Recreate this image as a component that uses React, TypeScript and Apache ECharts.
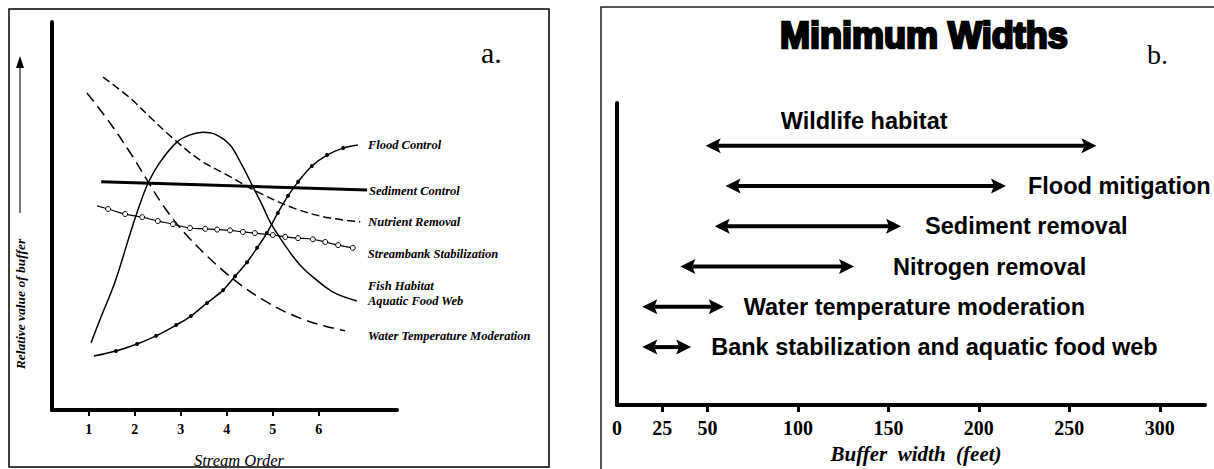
import React, { useEffect, useRef } from "react";
import * as echarts from "echarts";

// ---------- Panel a: relative value of buffer vs stream order ----------
const streamOrderTicks = [1, 2, 3, 4, 5, 6];

const floodControl = [
  [1.11, 13.9], [1.59, 15.2], [2.05, 17.0], [2.46, 19.1], [2.9, 21.9], [3.22, 24.2],
  [3.57, 27.6], [3.92, 30.9], [4.18, 34.5], [4.44, 38.1], [4.66, 41.8], [4.87, 45.6],
  [5.11, 50.8], [5.33, 55.2], [5.55, 58.8], [5.85, 62.9], [6.18, 65.7], [6.53, 67.5],
  [6.85, 68.3],
];
const sedimentControl = [[1.27, 58.8], [7.05, 56.7]];
const nutrientRemoval = [
  [1.31, 85.8], [1.9, 80.4], [2.33, 75.5], [2.87, 69.6], [3.42, 64.4], [4.0, 60.6],
  [4.72, 55.9], [5.44, 52.1], [6.14, 49.7], [6.9, 48.5],
];
const streambankStabilization = [
  [1.18, 52.6], [1.42, 51.8], [1.79, 50.5], [2.16, 49.7], [2.5, 48.7], [2.83, 47.9],
  [3.2, 46.9], [3.53, 46.7], [3.79, 46.5], [4.07, 46.3], [4.35, 45.9], [4.61, 45.6],
  [5.0, 45.1], [5.27, 44.6], [5.55, 44.3], [5.87, 44.0], [6.14, 43.3], [6.42, 42.5],
  [6.74, 41.8],
];
const fishHabitat = [
  [1.05, 17.3], [1.24, 23.2], [1.53, 31.7], [1.68, 37.0], [1.9, 45.5], [2.11, 53.0],
  [2.29, 58.5], [2.55, 63.9], [2.92, 69.1], [3.2, 70.9], [3.48, 71.6], [3.74, 71.1],
  [4.07, 68.3], [4.33, 63.1], [4.57, 57.5], [4.77, 52.8], [4.94, 48.5], [5.16, 44.3],
  [5.37, 40.7], [5.59, 37.4], [5.87, 34.3], [6.31, 30.4], [6.83, 28.1],
];
const waterTemperature = [
  [0.96, 81.7], [1.46, 74.0], [1.96, 65.2], [2.29, 58.8], [2.61, 52.8], [2.92, 47.9],
  [3.2, 44.1], [3.57, 39.7], [4.0, 35.1], [4.4, 31.4], [4.83, 28.1], [5.27, 25.3],
  [5.7, 23.2], [6.14, 21.6], [6.57, 20.4],
];

// ---------- Panel b: minimum buffer widths (feet) ----------
const bufferFunctions = [
  "Wildlife habitat",
  "Flood mitigation",
  "Sediment removal",
  "Nitrogen removal",
  "Water temperature moderation",
  "Bank stabilization and aquatic food web",
];
const minWidthFrom = [49, 60, 54, 35, 14, 14];
const minWidthTo = [265, 215, 157, 131, 59, 41];
const bufferTicks = [25, 50, 100, 150, 200, 250, 300];
const bufferTickLabels = [0, 25, 50, 100, 150, 200, 250, 300];

// layout constants (not data)
const LABEL_GAP = [0, 22, 24, 39, 20, 20];

const serif = "Liberation Serif";

export default function App() {
  const ref = useRef<HTMLDivElement>(null);

  useEffect(() => {
    document.body.style.margin = "0";
    const chart = echarts.init(ref.current!, null, { renderer: "svg" });

    const labelStyle = {
      fontFamily: serif,
      fontStyle: "italic",
      fontWeight: "bold",
      fontSize: 12.5,
      color: "#000",
    };

    const dotted = (arr: number[][], skipLast: boolean) =>
      arr.map((p, i) =>
        i === 0 || (skipLast && i === arr.length - 1) ? { value: p, symbol: "none" } : { value: p }
      );

    const lineSeries = (
      name: string,
      data: any[],
      lineStyle: any,
      extra: any,
      label: { distance: number; dy: number; text?: string }
    ) => ({
      type: "line",
      name,
      xAxisIndex: 0,
      yAxisIndex: 0,
      data,
      smooth: 0.35,
      symbol: "none",
      lineStyle: { color: "#000", ...lineStyle },
      itemStyle: { color: "#000" },
      endLabel: {
        show: true,
        formatter: () => label.text ?? name,
        distance: label.distance,
        offset: [0, label.dy],
        ...labelStyle,
        lineHeight: 15,
      },
      emphasis: { disabled: true },
      z: 3,
      ...extra,
    });

    const option: any = {
      animation: false,
      backgroundColor: "#fff",
      title: {
        text: "Minimum Widths",
        left: 775,
        top: 12,
        textStyle: {
          fontFamily: "Liberation Sans",
          fontWeight: "bold",
          fontSize: 36,
          color: "#000",
          textBorderColor: "#000",
          textBorderWidth: 2.5,
        },
      },
      grid: [
        { left: 52, top: 22, width: 345, height: 388 },
        { left: 617, top: 103, width: 588, height: 312 },
      ],
      xAxis: [
        {
          gridIndex: 0,
          type: "value",
          min: 0.2,
          max: 7.7,
          axisLine: { show: true, onZero: false, lineStyle: { color: "#000", width: 4 } },
          axisTick: {
            show: true,
            customValues: streamOrderTicks,
            length: 6,
            lineStyle: { color: "#000", width: 2 },
          },
          axisLabel: {
            customValues: streamOrderTicks,
            margin: 12,
            fontFamily: serif,
            fontWeight: "bold",
            fontSize: 14,
            color: "#000",
          },
          splitLine: { show: false },
        },
        {
          gridIndex: 1,
          type: "value",
          min: 0,
          max: 325,
          name: "Buffer  width  (feet)",
          nameLocation: "middle",
          nameGap: 32,
          nameTextStyle: {
            fontFamily: serif,
            fontStyle: "italic",
            fontWeight: "bold",
            fontSize: 21,
            color: "#000",
            padding: [0, 0, 0, 10],
          },
          axisLine: { show: true, onZero: false, lineStyle: { color: "#000", width: 4 } },
          axisTick: {
            show: true,
            customValues: bufferTicks,
            length: 7,
            lineStyle: { color: "#000", width: 3 },
          },
          axisLabel: {
            customValues: bufferTickLabels,
            margin: 13,
            fontFamily: serif,
            fontWeight: "bold",
            fontSize: 20,
            color: "#000",
          },
          splitLine: { show: false },
        },
      ],
      yAxis: [
        {
          gridIndex: 0,
          type: "value",
          min: 0,
          max: 100,
          axisLine: { show: true, onZero: false, lineStyle: { color: "#000", width: 4 } },
          axisTick: { show: false },
          axisLabel: { show: false },
          splitLine: { show: false },
        },
        {
          gridIndex: 1,
          type: "value",
          inverse: true,
          min: -1.06,
          max: 6.44,
          axisLine: { show: true, onZero: false, lineStyle: { color: "#000", width: 4 } },
          axisTick: { show: false },
          axisLabel: { show: false },
          splitLine: { show: false },
        },
      ],
      graphic: [
        {
          type: "rect",
          shape: { x: 9, y: 9, width: 540, height: 458 },
          style: { fill: "none", stroke: "#000", lineWidth: 1.5 },
          silent: true,
        },
        {
          type: "polyline",
          shape: { points: [[601, 469], [601, 7], [1214, 7]] },
          style: { fill: "none", stroke: "#222", lineWidth: 1.5 },
          silent: true,
        },
        {
          type: "text",
          x: 481,
          y: 52,
          style: { text: "a.", fontFamily: serif, fontSize: 30, fill: "#000", verticalAlign: "middle" },
        },
        {
          type: "text",
          x: 1147,
          y: 54,
          style: { text: "b.", fontFamily: serif, fontSize: 28, fill: "#000", verticalAlign: "middle" },
        },
        {
          type: "line",
          shape: { x1: 20, y1: 213, x2: 20, y2: 66 },
          style: { stroke: "#777", lineWidth: 2 },
        },
        {
          type: "polygon",
          shape: { points: [[20, 56], [16, 68], [24, 68]] },
          style: { fill: "#000" },
        },
        {
          type: "text",
          x: 20,
          y: 304,
          rotation: Math.PI / 2,
          style: {
            text: "Relative value of buffer",
            fontFamily: serif,
            fontStyle: "italic",
            fontWeight: "bold",
            fontSize: 13.5,
            fill: "#000",
            align: "center",
            verticalAlign: "middle",
          },
        },
        {
          type: "text",
          x: 239,
          y: 460,
          style: {
            text: "Stream Order",
            fontFamily: serif,
            fontStyle: "italic",
            fontSize: 16.5,
            fill: "#000",
            align: "center",
            verticalAlign: "middle",
          },
        },
      ],
      series: [
        lineSeries(
          "Flood Control",
          dotted(floodControl, true),
          { width: 1.5 },
          { symbol: "circle", symbolSize: 4, showSymbol: true },
          { distance: 10, dy: 0 }
        ),
        lineSeries("Sediment Control", sedimentControl, { width: 3 }, { smooth: false }, { distance: 2, dy: 1 }),
        lineSeries(
          "Nutrient Removal",
          nutrientRemoval,
          { width: 1.5, type: [8, 4] },
          {},
          { distance: 8, dy: 0 }
        ),
        lineSeries(
          "Streambank Stabilization",
          dotted(streambankStabilization, false),
          { width: 1.2 },
          {
            symbol: "circle",
            symbolSize: 5,
            showSymbol: true,
            itemStyle: { color: "#fff", borderColor: "#000", borderWidth: 1 },
          },
          { distance: 15, dy: 6 }
        ),
        lineSeries(
          "Fish Habitat",
          fishHabitat,
          { width: 1.5 },
          {},
          { distance: 11, dy: -7, text: "Fish Habitat\nAquatic Food Web" }
        ),
        lineSeries(
          "Water Temperature Moderation",
          waterTemperature,
          { width: 1.5, type: [11, 6] },
          {},
          { distance: 23, dy: 5 }
        ),
        {
          type: "custom",
          name: "Minimum widths",
          xAxisIndex: 1,
          yAxisIndex: 1,
          clip: false,
          encode: { x: [0, 1], y: 2 },
          data: bufferFunctions.map((_, i) => [minWidthFrom[i], minWidthTo[i], i]),
          renderItem: (params: any, api: any) => {
            const row = api.value(2);
            const s = api.coord([api.value(0), row]);
            const e = api.coord([api.value(1), row]);
            const y = s[1];
            const i = params.dataIndex;
            const hl = 15;
            const hw = 7.5;
            const lp =
              i === 0
                ? { x: s[0] + 75, y: y - 25 }
                : { x: e[0] + LABEL_GAP[i], y: y };
            return {
              type: "group",
              children: [
                {
                  type: "line",
                  shape: { x1: s[0] + hl - 3, y1: y, x2: e[0] - hl + 3, y2: y },
                  style: { stroke: "#000", lineWidth: 4 },
                },
                {
                  type: "polygon",
                  shape: { points: [[s[0], y], [s[0] + hl, y - hw], [s[0] + hl - 3, y], [s[0] + hl, y + hw]] },
                  style: { fill: "#000" },
                },
                {
                  type: "polygon",
                  shape: { points: [[e[0], y], [e[0] - hl, y - hw], [e[0] - hl + 3, y], [e[0] - hl, y + hw]] },
                  style: { fill: "#000" },
                },
                {
                  type: "text",
                  x: lp.x,
                  y: lp.y,
                  style: {
                    text: bufferFunctions[i],
                    fontFamily: "Liberation Sans",
                    fontWeight: "bold",
                    fontSize: 23.5,
                    fill: "#000",
                    align: "left",
                    verticalAlign: "middle",
                  },
                },
              ],
            };
          },
        },
      ],
    };

    chart.setOption(option);
    return () => chart.dispose();
  }, []);

  return <div ref={ref} style={{ width: 1214, height: 469 }} />;
}
